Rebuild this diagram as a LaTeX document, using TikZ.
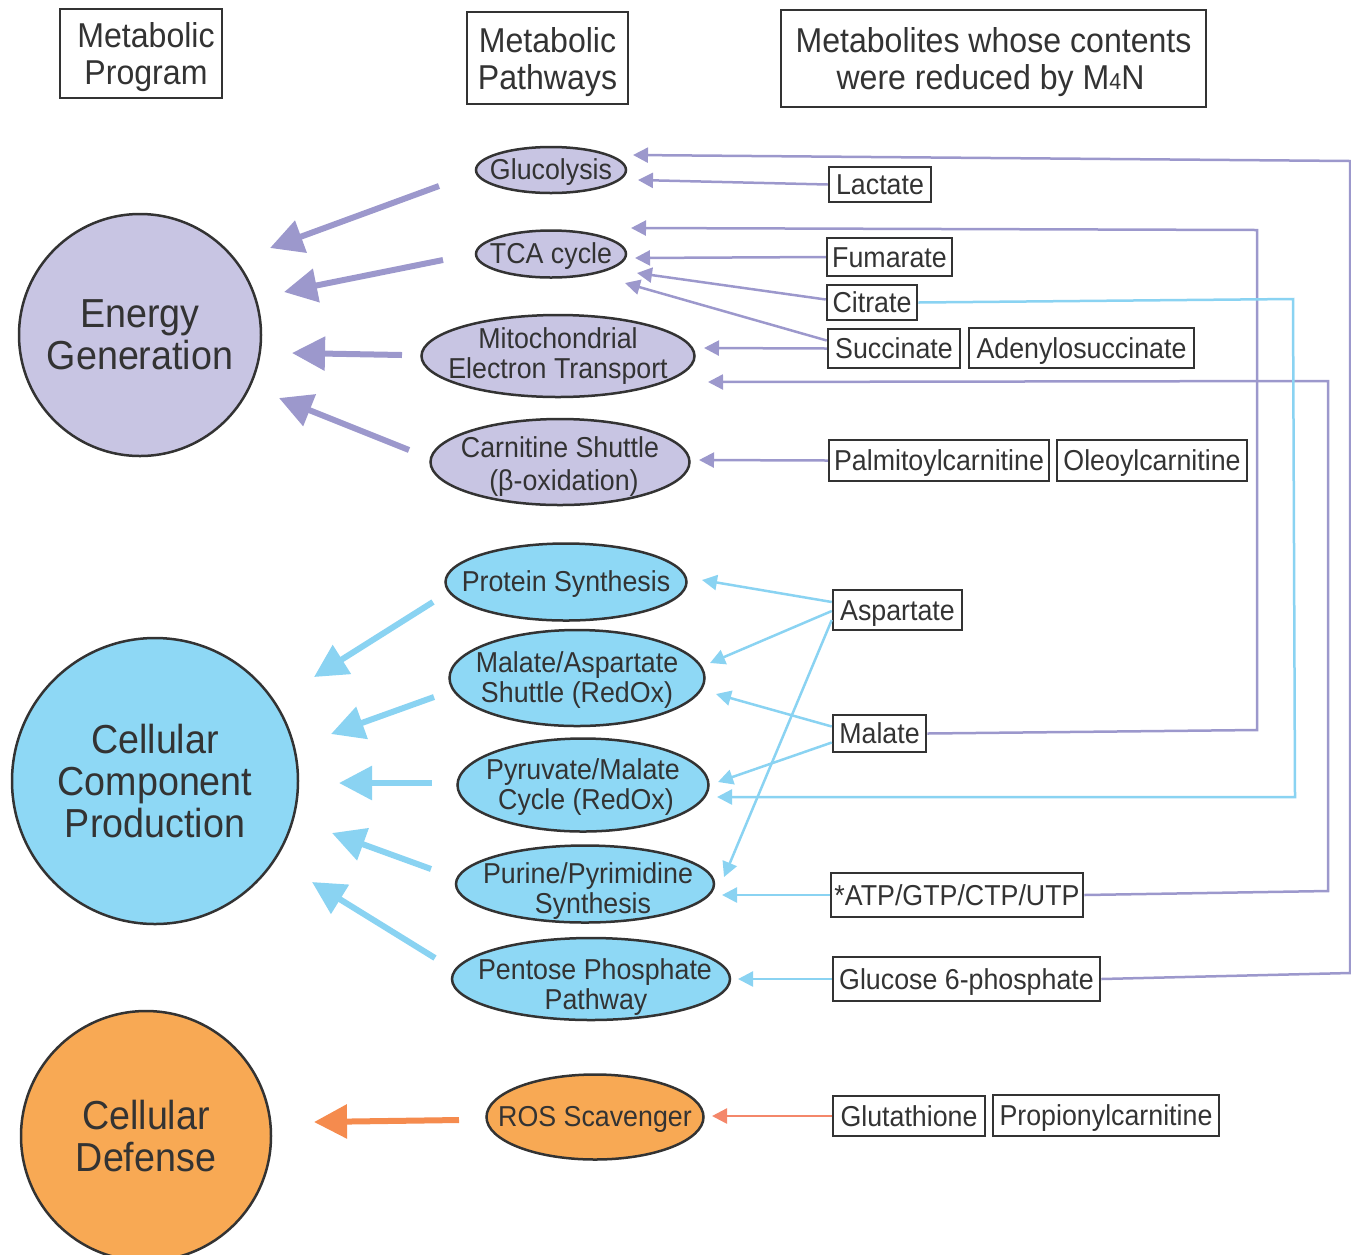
\documentclass[tikz,border=0pt]{standalone}
\usepackage{fontspec}
\setmainfont{Liberation Sans}[FakeStretch=0.93]
\usetikzlibrary{shapes.geometric,arrows.meta,calc}
\definecolor{pfill}{HTML}{C8C5E3}
\definecolor{pline}{HTML}{9C98CC}
\definecolor{bfill}{HTML}{8ED8F5}
\definecolor{bline}{HTML}{8AD3F2}
\definecolor{ofill}{HTML}{F8A954}
\definecolor{oline}{HTML}{F58B4E}
\definecolor{othin}{HTML}{F4876A}
\definecolor{dark}{HTML}{333333}
\newcommand{\dnrule}[2][21]{\rule{0pt}{\dimexpr#1pt+#2pt*2\relax}}
\begin{document}
\begin{tikzpicture}[x=1pt,y=-1pt,
  every node/.style={text=dark},
  hdr/.style={draw=dark,line width=2.5pt,fill=white,align=center,inner sep=0pt,font=\fontsize{34.5}{37}\selectfont},
  bigc/.style={circle,draw=dark,line width=2.5pt,align=center,inner sep=0pt,font=\fontsize{40.5}{42}\selectfont},
  ell/.style={ellipse,draw=dark,line width=2.5pt,align=center,inner xsep=-30pt,inner ysep=-15pt,font=\fontsize{28.8}{30.5}\selectfont},
  mbox/.style={draw=dark,line width=2.5pt,fill=white,inner sep=0pt,text height=21pt,text depth=0.5pt,font=\fontsize{28.8}{30}\selectfont},
  bigarr/.style={line width=6pt,-{Triangle[length=33pt,width=33pt]}},
  thin/.style={line width=2.5pt,-{Triangle[length=15pt,width=15pt]}}
]
\useasboundingbox (0,0) rectangle (1351,1254);

% headers
\node[hdr,minimum width=162,minimum height=89] (h1) at (141,53.5) {\hspace*{10pt}\dnrule[25]{4}Metabolic\\\hspace*{10pt}Program};
\node[hdr,minimum width=161,minimum height=92] (h2) at (547.5,58) {\dnrule[25]{4}Metabolic\\Pathways};
\node[hdr,minimum width=425,minimum height=97] (h3) at (993.5,58.5) {\dnrule[25]{4}Metabolites whose contents\\were reduced by M{\fontsize{23}{23}\selectfont 4}N\hspace*{6pt}};

% programs
\node[bigc,fill=pfill,minimum size=242] (eg) at (140,335) {Energy\\Generation};
\node[bigc,fill=bfill,minimum size=286] (ccp) at (155,781) {Cellular\\Component\\Production};
\node[bigc,fill=ofill,minimum size=250] (cd) at (146,1136) {Cellular\\Defense};

% pathways
\node[ell,fill=pfill,minimum width=150,minimum height=46] (gly) at (551,170) {\dnrule{2}Glucolysis};
\node[ell,fill=pfill,minimum width=150,minimum height=47] (tca) at (551,254) {\dnrule{2}TCA cycle};
\node[ell,fill=pfill,minimum width=273,minimum height=82] (met) at (558,356) {Mitochondrial\\Electron Transport};
\node[ell,fill=pfill,minimum width=259,minimum height=86] (car) at (560,462) {\dnrule{4.25}Carnitine Shuttle\\[2.5pt]\hspace*{8pt}(β-oxidation)};
\node[ell,fill=bfill,minimum width=241,minimum height=77] (pro) at (566,582) {\dnrule{2}Protein Synthesis};
\node[ell,fill=bfill,minimum width=255,minimum height=96] (mas) at (577,678) {\dnrule{2}Malate/Aspartate\\Shuttle (RedOx)};
\node[ell,fill=bfill,minimum width=251,minimum height=93] (pmc) at (583,785) {\dnrule{2}Pyruvate/Malate\\\hspace*{6pt}Cycle (RedOx)};
\node[ell,fill=bfill,minimum width=258,minimum height=77] (pur) at (585,884) {\hspace*{6pt}\dnrule{7}Purine/Pyrimidine\\\hspace*{16pt}Synthesis};
\node[ell,fill=bfill,minimum width=278,minimum height=82] (ppp) at (591,979) {\hspace*{8pt}\dnrule{8}Pentose Phosphate\\\hspace*{10pt}Pathway};
\node[ell,fill=ofill,minimum width=217,minimum height=85] (ros) at (595,1117) {\dnrule{2}ROS Scavenger};

% metabolites
\node[mbox,minimum width=102,minimum height=35] (lac) at (880,184.5) {Lactate};
\node[mbox,minimum width=125,minimum height=38] (fum) at (889.5,257) {Fumarate};
\node[mbox,minimum width=90,minimum height=35] (cit) at (872,302.5) {Citrate};
\node[mbox,minimum width=132,minimum height=39] (suc) at (894,348.5) {Succinate};
\node[mbox,minimum width=225,minimum height=40] (ade) at (1081.5,348) {Adenylosuccinate};
\node[mbox,minimum width=220,minimum height=41] (pal) at (939,460.5) {Palmitoylcarnitine};
\node[mbox,minimum width=190,minimum height=41] (ole) at (1152,460.5) {Oleoylcarnitine};
\node[mbox,minimum width=129,minimum height=40] (asp) at (897.5,610) {Aspartate};
\node[mbox,minimum width=93,minimum height=37] (mal) at (879.5,733.5) {Malate};
\node[mbox,minimum width=252,minimum height=44] (atp) at (957,895) {*ATP/GTP/CTP/UTP};
\node[mbox,minimum width=267,minimum height=44] (g6p) at (966.5,979) {Glucose 6-phosphate};
\node[mbox,minimum width=152,minimum height=40] (glu) at (909,1116) {Glutathione};
\node[mbox,minimum width=226,minimum height=41] (prc) at (1106,1115.5) {Propionylcarnitine};

% big arrow endpoints
\coordinate (a1s) at (439,186); \coordinate (a1t) at (270,248);
\coordinate (a2s) at (443,260); \coordinate (a2t) at (284,292);
\coordinate (a3s) at (402,355); \coordinate (a3t) at (292,353);
\coordinate (a4s) at (409,450); \coordinate (a4t) at (279,398);
\coordinate (b1s) at (433,602); \coordinate (b1t) at (314,677);
\coordinate (b2s) at (434,697); \coordinate (b2t) at (331,734);
\coordinate (b3s) at (432,783); \coordinate (b3t) at (339,783);
\coordinate (b4s) at (431,869); \coordinate (b4t) at (332,833);
\coordinate (b5s) at (435,958); \coordinate (b5t) at (312,882);
\coordinate (c1s) at (459,1120); \coordinate (c1t) at (314,1122);

\draw[bigarr,pline] (a1s) -- (a1t);
\draw[bigarr,pline] (a2s) -- (a2t);
\draw[bigarr,pline] (a3s) -- (a3t);
\draw[bigarr,pline] (a4s) -- (a4t);
\draw[bigarr,bline] (b1s) -- (b1t);
\draw[bigarr,bline] (b2s) -- (b2t);
\draw[bigarr,bline] (b3s) -- (b3t);
\draw[bigarr,bline] (b4s) -- (b4t);
\draw[bigarr,bline] (b5s) -- (b5t);
\draw[bigarr,oline] (c1s) -- (c1t);

% thin arrow tips
\coordinate (tg1) at (633,155);
\coordinate (tg2) at (638,180);
\coordinate (tt1) at (631,228);
\coordinate (tt2) at (635,258);
\coordinate (tt3) at (637,273);
\coordinate (tt4) at (625,283);
\coordinate (tm1) at (704,348);
\coordinate (tm2) at (708,382);
\coordinate (tc1) at (699,460);
\coordinate (tp1) at (702,580);
\coordinate (ts1) at (710,663);
\coordinate (ts2) at (716,694);
\coordinate (ty1) at (718,782);
\coordinate (ty2) at (717,797);
\coordinate (tu1) at (724,877);
\coordinate (tu2) at (722,895);
\coordinate (tn1) at (738,979);
\coordinate (tr1) at (712,1116);

% purple thin connectors
\draw[thin,pline] (g6p.east) -- (1350,973) -- (1350,161) -- (tg1);
\draw[thin,pline] (lac.west) -- (tg2);
\draw[thin,pline] (mal.east) -- (1257,730) -- (1257,230) -- (tt1);
\draw[thin,pline] (fum.west) -- (tt2);
\draw[thin,pline] ([yshift=3pt]cit.west) -- (tt3);
\draw[thin,pline] ([yshift=8pt]suc.west) -- (tt4);
\draw[thin,pline] (suc.west) -- (tm1);
\draw[thin,pline] (atp.east) -- (1328,891) -- (1328,381) -- (tm2);
\draw[thin,pline] (pal.west) -- (tc1);

% blue thin connectors
\draw[thin,bline] (cit.east) -- (1293,299) -- (1295,797) -- (ty2);
\draw[thin,bline] ([yshift=8pt]asp.west) -- (tp1);
\draw[thin,bline] ([yshift=-1pt]asp.west) -- (ts1);
\draw[thin,bline] ([yshift=-10pt]asp.west) -- (tu1);
\draw[thin,bline] ([yshift=7pt]mal.west) -- (ts2);
\draw[thin,bline] ([yshift=-9pt]mal.west) -- (ty1);
\draw[thin,bline] (atp.west) -- (tu2);
\draw[thin,bline] (g6p.west) -- (tn1);

% orange thin connector
\draw[thin,othin] (glu.west) -- (tr1);
\end{tikzpicture}
\end{document}
